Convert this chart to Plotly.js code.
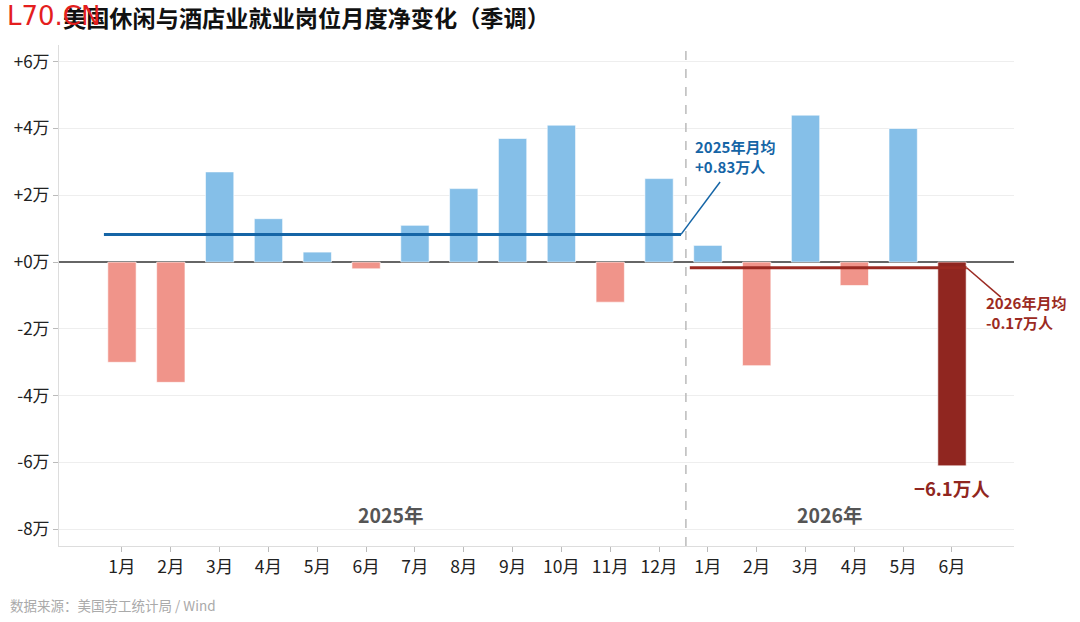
<!DOCTYPE html>
<html><head><meta charset="utf-8">
<script src="https://cdn.plot.ly/plotly-3.0.1.min.js"></script>
<style>body{margin:0;background:#fff}#c{width:1080px;height:622px}</style>
</head><body><div id="c"></div>
<script>
const months = ["1月","2月","3月","4月","5月","6月","7月","8月","9月","10月","11月","12月","1月","2月","3月","4月","5月","6月"];
const values2025 = [-3.0,-3.6,2.7,1.3,0.3,-0.2,1.1,2.2,3.7,4.1,-1.2,2.5];
const values2026 = [0.5,-3.1,4.4,-0.7,4.0,-6.1];
const avg2025 = 0.83;
const avg2026 = -0.17;
const yTickVals = [6,4,2,0,-2,-4,-6,-8];
const yTickText = ["+6万","+4万","+2万","+0万","-2万","-4万","-6万","-8万"];

const allVals = values2025.concat(values2026);
const xIdx = allVals.map((_, i) => i);
const blue = "#85BFE8", red = "#F0948A", dark = "#902620";
const colors = allVals.map((v, i) => i === allVals.length - 1 ? dark : (v >= 0 ? blue : red));
const n25 = values2025.length, nAll = allVals.length;
const F = "Noto Sans CJK SC, Noto Sans, sans-serif";

const traces = [
  {type:"bar", x:xIdx, y:allVals, width:0.58, marker:{color:colors, line:{color:"rgba(255,255,255,0.6)", width:1}}, hoverinfo:"skip"},
  {type:"scatter", mode:"lines", x:[-0.37, n25-0.55], y:[avg2025, avg2025], line:{color:"#1565A6", width:3}, hoverinfo:"skip"},
  {type:"scatter", mode:"lines", x:[n25-0.37, nAll-0.7], y:[avg2026, avg2026], line:{color:"#9B2A22", width:3}, hoverinfo:"skip"},
  {type:"scatter", mode:"lines", x:[n25-0.55, n25+0.25], y:[avg2025, 2.4], line:{color:"#1565A6", width:1.5}, hoverinfo:"skip"},
  {type:"scatter", mode:"lines", x:[nAll-0.7, nAll+0.0], y:[avg2026, -1.05], line:{color:"#9B2A22", width:1.5}, hoverinfo:"skip"}
];

const layout = {
  width:1080, height:622,
  margin:{l:59, r:66, t:45, b:76},
  paper_bgcolor:"#fff", plot_bgcolor:"#fff",
  showlegend:false,
  font:{family:F, color:"#222"},
  bargap:0.4,
  xaxis:{range:[-1.29, nAll-1+1.27], tickvals:xIdx, ticktext:months, ticks:"outside", ticklen:5, tickcolor:"#bbb",
         showgrid:false, zeroline:false, showline:true, linecolor:"#ddd", linewidth:1,
         tickfont:{size:17.5, color:"#222", family:F}, fixedrange:true},
  yaxis:{range:[-8.5, 6.5], tickvals:yTickVals, ticktext:yTickText, ticks:"outside", ticklen:5, tickcolor:"#bbb",
         showgrid:true, gridcolor:"#eeeeee", gridwidth:1, zeroline:true, zerolinecolor:"#666", zerolinewidth:1.5,
         showline:true, linecolor:"#ddd", linewidth:1, tickfont:{size:17, color:"#222", family:F}, fixedrange:true},
  shapes:[
    {type:"line", xref:"x", yref:"paper", x0:n25-0.45, x1:n25-0.45, y0:0, y1:1, line:{color:"#bbb", width:1.5, dash:"dash"}}
  ],
  annotations:[
    {xref:"paper", yref:"paper", x:0.002, y:1.055, xanchor:"left", yanchor:"middle", showarrow:false,
     text:"<b>美国休闲与酒店业就业岗位月度净变化（季调）</b>", font:{size:23.2, color:"#111", family:F}},
    {xref:"paper", yref:"paper", x:-0.057, y:1.058, xanchor:"left", yanchor:"middle", showarrow:false,
     text:"L70.CN", font:{size:26, color:"#e41e1e", family:"DejaVu Sans, sans-serif"}},
    {xref:"x", yref:"y", x:5.5, y:-7.55, showarrow:false, text:"<b>2025年</b>", font:{size:19.5, color:"#555", family:F}},
    {xref:"x", yref:"y", x:14.5, y:-7.55, showarrow:false, text:"<b>2026年</b>", font:{size:19.5, color:"#555", family:F}},
    {xref:"x", yref:"y", x:n25-0.3, y:3.15, xanchor:"left", yanchor:"middle", align:"left", showarrow:false,
     text:"<b>2025年月均<br>+0.83万人</b>", font:{size:15, color:"#1565A6", family:F}},
    {xref:"x", yref:"y", x:nAll-0.35, y:-1.5, xanchor:"left", yanchor:"middle", align:"left", showarrow:false,
     text:"<b>2026年月均<br>-0.17万人</b>", font:{size:15, color:"#9B2A22", family:F}},
    {xref:"x", yref:"y", x:nAll-1, y:-6.75, showarrow:false, text:"<b>−6.1万人</b>", font:{size:18.5, color:"#902620", family:F}},
    {xref:"paper", yref:"paper", x:-0.053, y:-0.117, xanchor:"left", yanchor:"middle", showarrow:false,
     text:"数据来源：美国劳工统计局 / Wind", font:{size:13.5, color:"#aaa", family:F}}
  ]
};
Plotly.newPlot("c", traces, layout, {displayModeBar:false, staticPlot:true});
</script></body></html>
